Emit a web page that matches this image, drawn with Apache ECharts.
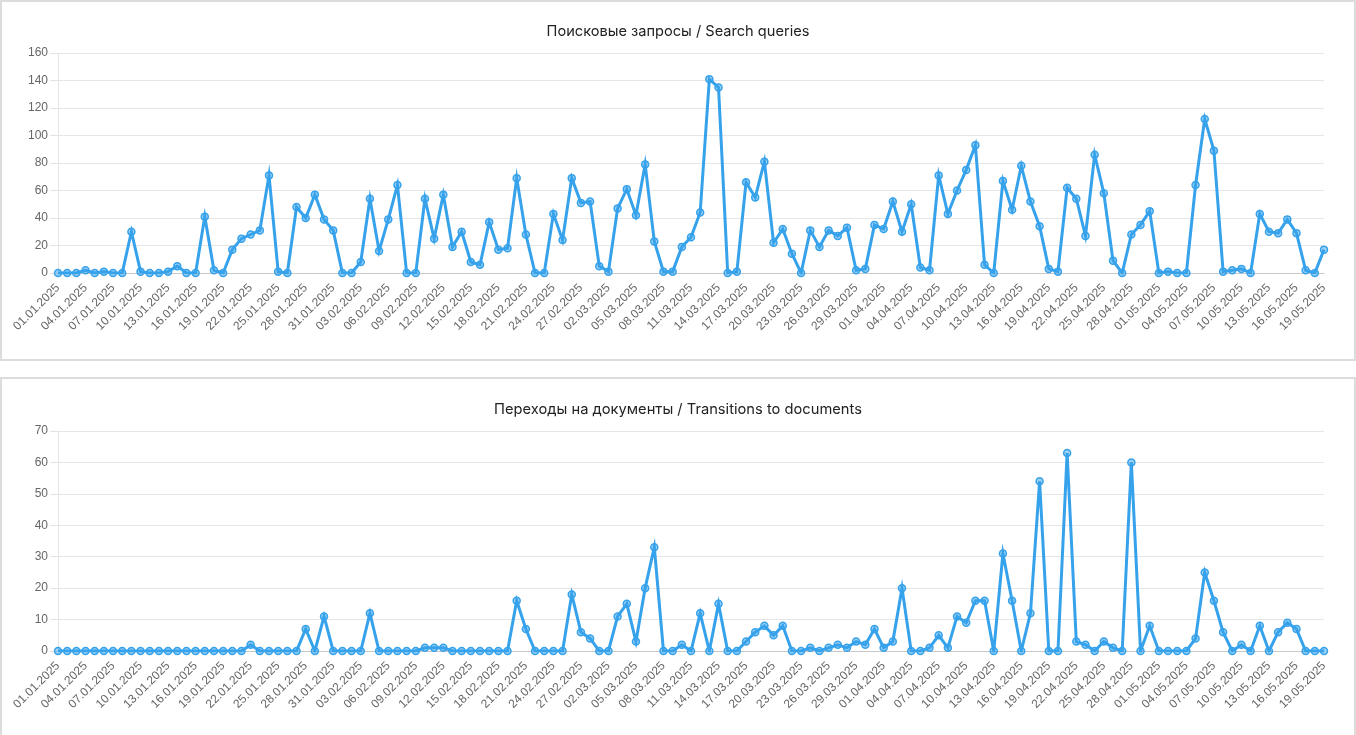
<!DOCTYPE html>
<html>
<head>
<meta charset="utf-8">
<script src="https://cdn.jsdelivr.net/npm/echarts@6/dist/echarts.min.js"></script>
<style>
html,body{margin:0;padding:0;background:#fff;width:1356px;height:735px;overflow:hidden;}
.box{position:absolute;left:0;width:1356px;box-sizing:border-box;border:2px solid #dcdcdc;pointer-events:none;}
.chart{position:absolute;left:0;width:1356px;}
</style>
</head>
<body>
<div id="c1" class="chart" style="top:0;height:360px;"></div>
<div id="c2" class="chart" style="top:377px;height:358px;"></div>
<div class="box" style="top:0;height:361px;"></div>
<div class="box" style="top:377px;height:380px;"></div>
<script>
const daysJan = ["01.01.2025","02.01.2025","03.01.2025","04.01.2025","05.01.2025","06.01.2025","07.01.2025","08.01.2025","09.01.2025","10.01.2025","11.01.2025","12.01.2025","13.01.2025","14.01.2025","15.01.2025","16.01.2025","17.01.2025","18.01.2025","19.01.2025","20.01.2025","21.01.2025","22.01.2025","23.01.2025","24.01.2025","25.01.2025","26.01.2025","27.01.2025","28.01.2025","29.01.2025","30.01.2025","31.01.2025"];
const daysFeb = ["01.02.2025","02.02.2025","03.02.2025","04.02.2025","05.02.2025","06.02.2025","07.02.2025","08.02.2025","09.02.2025","10.02.2025","11.02.2025","12.02.2025","13.02.2025","14.02.2025","15.02.2025","16.02.2025","17.02.2025","18.02.2025","19.02.2025","20.02.2025","21.02.2025","22.02.2025","23.02.2025","24.02.2025","25.02.2025","26.02.2025","27.02.2025","28.02.2025"];
const daysMar = ["01.03.2025","02.03.2025","03.03.2025","04.03.2025","05.03.2025","06.03.2025","07.03.2025","08.03.2025","09.03.2025","10.03.2025","11.03.2025","12.03.2025","13.03.2025","14.03.2025","15.03.2025","16.03.2025","17.03.2025","18.03.2025","19.03.2025","20.03.2025","21.03.2025","22.03.2025","23.03.2025","24.03.2025","25.03.2025","26.03.2025","27.03.2025","28.03.2025","29.03.2025","30.03.2025","31.03.2025"];
const daysApr = ["01.04.2025","02.04.2025","03.04.2025","04.04.2025","05.04.2025","06.04.2025","07.04.2025","08.04.2025","09.04.2025","10.04.2025","11.04.2025","12.04.2025","13.04.2025","14.04.2025","15.04.2025","16.04.2025","17.04.2025","18.04.2025","19.04.2025","20.04.2025","21.04.2025","22.04.2025","23.04.2025","24.04.2025","25.04.2025","26.04.2025","27.04.2025","28.04.2025","29.04.2025","30.04.2025"];
const daysMay = ["01.05.2025","02.05.2025","03.05.2025","04.05.2025","05.05.2025","06.05.2025","07.05.2025","08.05.2025","09.05.2025","10.05.2025","11.05.2025","12.05.2025","13.05.2025","14.05.2025","15.05.2025","16.05.2025","17.05.2025","18.05.2025","19.05.2025"];

const searchJan = [0,0,0,2,0,1,0,0,30,1,0,0,1,5,0,0,41,2,0,17,25,28,31,71,1,0,48,40,57,39,31];
const searchFeb = [0,0,8,54,16,39,64,0,0,54,25,57,19,30,8,6,37,17,18,69,28,0,0,43,24,69,51,52];
const searchMar = [5,1,47,61,42,79,23,1,1,19,26,44,141,135,0,1,66,55,81,22,32,14,0,31,19,31,27,33,2,3,35];
const searchApr = [32,52,30,50,4,2,71,43,60,75,93,6,0,67,46,78,52,34,3,1,62,54,27,86,58,9,0,28,35,45];
const searchMay = [0,1,0,0,64,112,89,1,2,3,0,43,30,29,39,29,2,0,17];

const transJan = [0,0,0,0,0,0,0,0,0,0,0,0,0,0,0,0,0,0,0,0,0,2,0,0,0,0,0,7,0,11,0];
const transFeb = [0,0,0,12,0,0,0,0,0,1,1,1,0,0,0,0,0,0,0,16,7,0,0,0,0,18,6,4];
const transMar = [0,0,11,15,3,20,33,0,0,2,0,12,0,15,0,0,3,6,8,5,8,0,0,1,0,1,2,1,3,2,7];
const transApr = [1,3,20,0,0,1,5,1,11,9,16,16,0,31,16,0,12,54,0,0,63,3,2,0,3,1,0,60,0,8];
const transMay = [0,0,0,0,4,25,16,6,0,2,0,8,0,6,9,7,0,0,0];

const titleSearch = "Поисковые запросы / Search queries";
const titleTrans = "Переходы на документы / Transitions to documents";
const yTicksSearch = {max:160, interval:20};
const yTicksTrans = {max:70, interval:10};

const categories = [].concat(daysJan, daysFeb, daysMar, daysApr, daysMay);
const searchValues = [].concat(searchJan, searchFeb, searchMar, searchApr, searchMay);
const transValues = [].concat(transJan, transFeb, transMar, transApr, transMay);

const BLUE = '#36a2eb';
const labelFont = '"Liberation Sans", Arial, sans-serif';

function makeOption(title, data, yt, gridTop, titleTop, titleSize) {
  return {
    animation: false,
    title: {
      text: title, left: 'center', top: titleTop,
      textStyle: {fontFamily: 'Inter, "Noto Sans", sans-serif', fontSize: titleSize, fontWeight: 'normal', color: '#222'}
    },
    grid: {left: 58, right: 32, top: gridTop, height: 220, containLabel: false},
    xAxis: {
      type: 'category', data: categories, boundaryGap: false,
      axisLine: {show: true, lineStyle: {color: '#c8c8c8', width: 1}},
      axisTick: {show: false},
      splitLine: {show: false},
      axisLabel: {interval: 2, rotate: 45, margin: 13, color: '#666', fontSize: 12, fontFamily: labelFont}
    },
    yAxis: {
      type: 'value', min: 0, max: yt.max, interval: yt.interval,
      axisLine: {show: true, lineStyle: {color: '#e3e3e3'}},
      axisTick: {show: true, length: 8, lineStyle: {color: '#e3e3e3'}},
      splitLine: {show: true, lineStyle: {color: '#e6e6e6'}},
      axisLabel: {margin: 10, color: '#666', fontSize: 12, fontFamily: labelFont}
    },
    series: [{
      type: 'line', data: data,
      symbol: 'circle', symbolSize: 7, showAllSymbol: true,
      lineStyle: {color: BLUE, width: 3, join: 'miter'},
      itemStyle: {color: 'rgba(54,162,235,0.5)', borderColor: BLUE, borderWidth: 1.5}
    }]
  };
}

const c1 = echarts.init(document.getElementById('c1'));
c1.setOption(makeOption(titleSearch, searchValues, yTicksSearch, 53, 19, 14.6));
const c2 = echarts.init(document.getElementById('c2'));
c2.setOption(makeOption(titleTrans, transValues, yTicksTrans, 54, 20, 14.7));
</script>
</body>
</html>
